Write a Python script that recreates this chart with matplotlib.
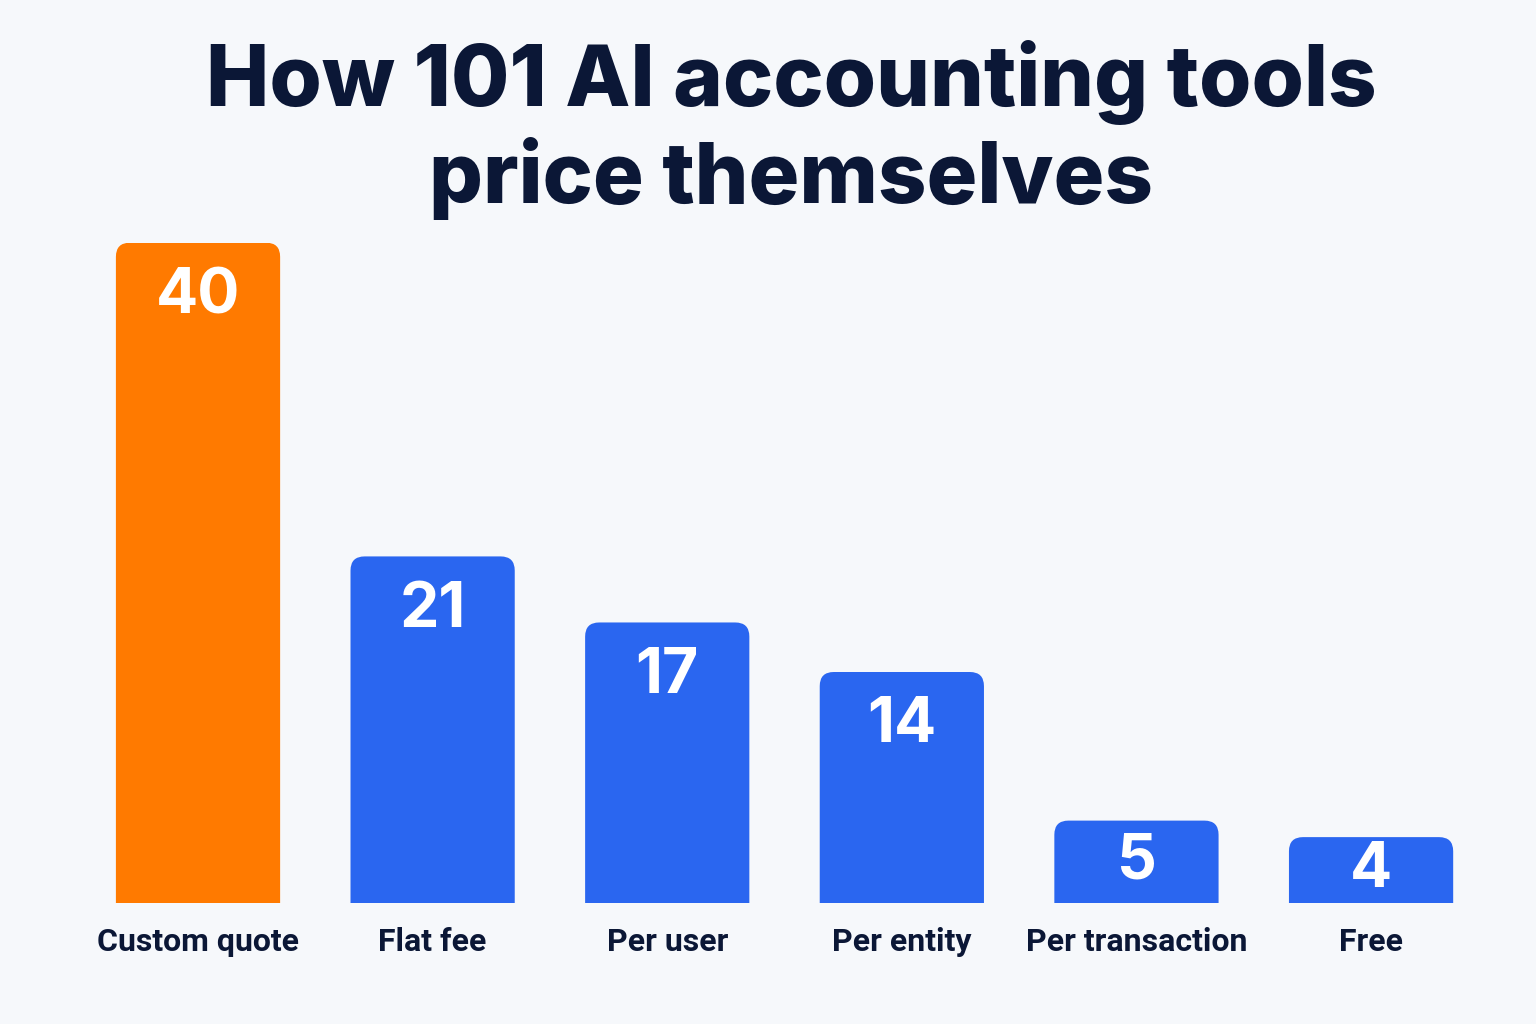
import matplotlib.pyplot as plt
from matplotlib.patches import FancyBboxPatch

categories = ["Custom quote", "Flat fee", "Per user", "Per entity", "Per transaction", "Free"]
counts = [40, 21, 17, 14, 5, 4]
title = "How 101 AI accounting tools\nprice themselves"

BACKGROUND = "#F6F8FB"
NAVY = "#0B1736"
ORANGE = "#FF7A00"
BLUE = "#2A66F0"

plt.rcParams["font.family"] = ["Inter", "DejaVu Sans"]

figure = plt.figure(figsize=(15.36, 10.24), dpi=100, facecolor=BACKGROUND)
axis = figure.add_axes([0.0, 0.118, 1.0, 0.645])
axis.set_facecolor(BACKGROUND)
axis.set_xlim(-0.844, 5.703)
axis.set_ylim(0, 40)
axis.axis("off")

colors = [ORANGE] + [BLUE] * (len(counts) - 1)
bars = axis.bar(range(len(counts)), counts, width=0.7, color=colors)

# swap the plain bars for rounded ones; the bottom corners hang below
# the axes and get clipped, so only the top corners stay rounded
aspect = (40 / 660) * 234.6
for bar, color in zip(bars, colors):
    x, width, height = bar.get_x(), bar.get_width(), bar.get_height()
    bar.remove()
    axis.add_patch(FancyBboxPatch(
        (x, -1.5), width, height + 1.5,
        boxstyle="round,pad=0,rounding_size=0.06",
        mutation_aspect=aspect,
        facecolor=color, edgecolor="none",
    ))

    # keep the number inside short bars
    top_px = axis.transData.transform((0, height))[1]
    base_px = axis.transData.transform((0, 0))[1]
    drop_px = min(54, (top_px - base_px) / 2)
    axis.annotate(
        f"{height:.0f}", (x + width / 2, height),
        xytext=(0, -drop_px * 0.72), textcoords="offset points",
        ha="center", va="center", color="white",
        fontsize=45, fontweight="bold",
    )

for index, name in enumerate(categories):
    axis.annotate(
        name, (index, 0), xytext=(0, -39 * 0.72), textcoords="offset points",
        ha="center", va="center", color=NAVY, family=["Roboto", "DejaVu Sans"],
        fontsize=23, fontweight="bold", annotation_clip=False,
    )

figure.text(
    0.515, 0.873, title, ha="center", va="center", color=NAVY,
    fontsize=61, fontweight="heavy", linespacing=1.18,
)

figure.savefig("out.png", dpi=100, facecolor=BACKGROUND)
